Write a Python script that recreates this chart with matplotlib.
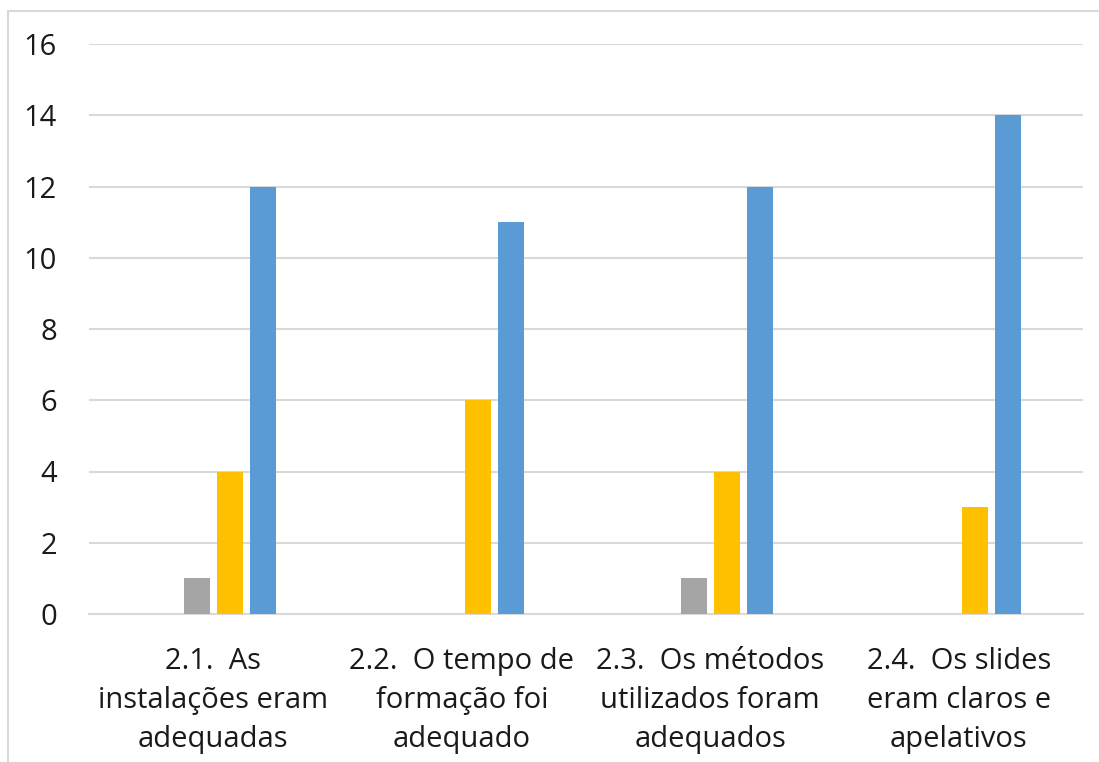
import numpy as np
import matplotlib.pyplot as plt
from matplotlib.patches import Rectangle

plt.rcParams['font.family'] = ['Open Sans', 'DejaVu Sans']

categories = [
    "2.1.  As\ninstalações eram\nadequadas",
    "2.2.  O tempo de\nformação foi\nadequado",
    "2.3.  Os métodos\nutilizados foram\nadequados",
    "2.4.  Os slides\neram claros e\napelativos",
]
series_orange = [0, 0, 0, 0]
series_gray = [1, 0, 1, 0]
series_yellow = [4, 6, 4, 3]
series_blue = [12, 11, 12, 14]
yticks = [0, 2, 4, 6, 8, 10, 12, 14, 16]

W, H = 1099, 762
fig = plt.figure(figsize=(W / 100, H / 100), dpi=100)
ax = fig.add_axes([89 / W, 1 - 614 / H, (1083 - 89) / W, (614 - 44) / H])

x = np.arange(len(categories))
step = 33 / 248.5
width = 26 / 248.5
series = [(series_orange, "#ED7D31"), (series_gray, "#A5A5A5"),
          (series_yellow, "#FFC000"), (series_blue, "#5B9BD5")]
for i, (vals, col) in enumerate(series):
    ax.bar(x + (i - 1.5) * step, vals, width=width, color=col, linewidth=0, zorder=3)

ax.set_xlim(-0.5, len(categories) - 0.5)
ax.set_ylim(0, 16)
ax.set_yticks(yticks)
ax.set_yticklabels([str(v) for v in yticks], fontsize=21, color="#1a1a1a")
ax.set_xticks(x)
ax.set_xticklabels(categories, fontsize=21, color="#1a1a1a", linespacing=1.44)
ax.tick_params(axis="both", length=0)
ax.tick_params(axis="y", pad=23)
ax.tick_params(axis="x", pad=24)
ax.yaxis.grid(True, color="#D9D9D9", linewidth=1.5, zorder=0)
for side in ["top", "right", "left"]:
    ax.spines[side].set_visible(False)
ax.spines["bottom"].set_color("#D9D9D9")
ax.spines["bottom"].set_linewidth(1.5)

# outer chart border, clipped by the figure edge on the right and bottom
fig.patches.append(Rectangle((8 / W, -0.05), 1.1, 1 - 11 / H + 0.05,
                             transform=fig.transFigure, fill=False,
                             edgecolor="#D9D9D9", linewidth=1.5))

fig.savefig("out.png", dpi=100)
